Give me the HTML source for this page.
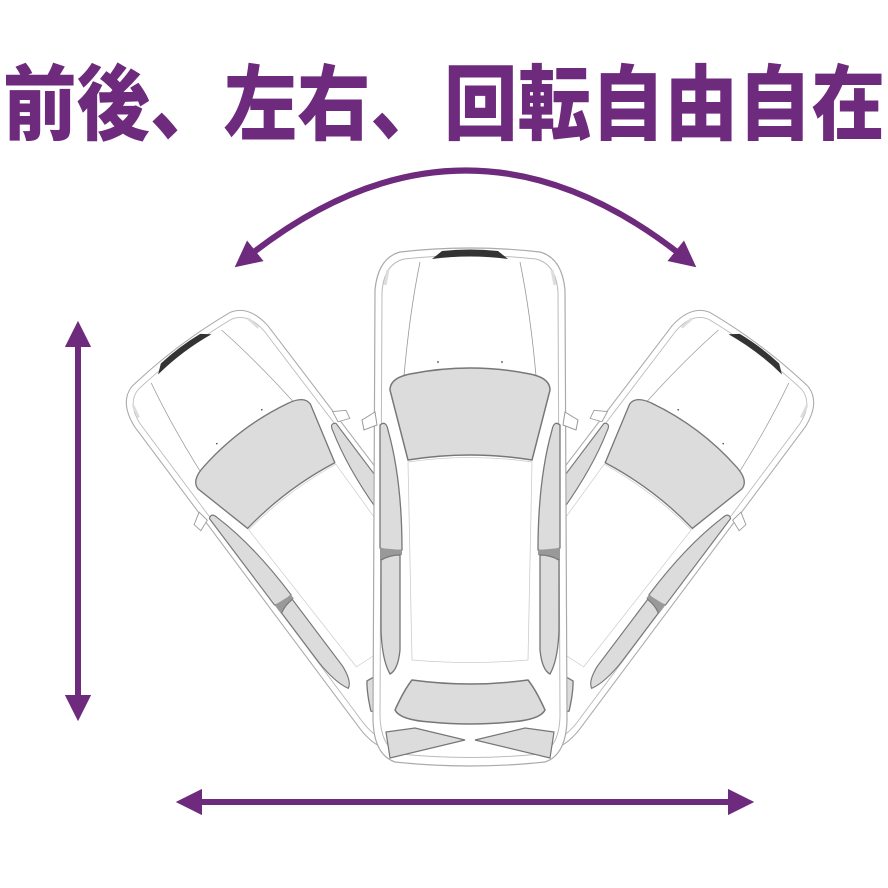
<!DOCTYPE html>
<html><head><meta charset="utf-8"><style>
html,body{margin:0;padding:0;background:#fff;}
svg{display:block}
</style></head><body>
<svg width="888" height="888" viewBox="0 0 888 888" xmlns="http://www.w3.org/2000/svg">
<defs>
<g id="car">
  <path d="M-70,2 Q0,-6 70,2 Q92,8 95,40 L97,470 Q96,505 75,512 Q0,520 -75,512 Q-96,505 -97,470 L-95,40 Q-92,8 -70,2 Z" fill="#fff" stroke="#aaa" stroke-width="1.2"/>
  <path d="M-66,9 Q0,2 66,9 Q86,14 88,42 L90,466 Q89,498 70,504 Q0,511 -70,504 Q-89,498 -90,466 L-88,42 Q-86,14 -66,9 Z" fill="none" stroke="#bbb" stroke-width="1"/>
  <path d="M-38,9 Q0,4 38,9 L28,1 Q0,-2 -28,1 Z" fill="#333"/>
  <path d="M-50,12 Q-62,70 -68,150" fill="none" stroke="#999" stroke-width="0.8"/>
  <path d="M50,12 Q62,70 68,150" fill="none" stroke="#999" stroke-width="0.8"/>
  <path d="M-82,20 L-85,35 M82,20 L85,35" stroke="#ddd" stroke-width="3"/>
  <circle cx="-32" cy="112" r="0.9" fill="#444"/>
  <circle cx="32" cy="112" r="0.9" fill="#444"/>
  <path d="M-80,140 Q-80,128 -60,124 Q0,112 60,124 Q80,128 80,140 L62,210 Q0,200 -62,210 Z" fill="#dcdcdc" stroke="#777" stroke-width="1.5"/>
  <path d="M-62,212 Q0,203 62,212 L58,410 Q0,415 -58,410 Z" fill="#fff" stroke="#ccc" stroke-width="0.8"/>
  <path d="M-90,175 Q-84,170 -82,180 Q-68,230 -68,300 Q-80,302 -90,298 Z" fill="#dcdcdc" stroke="#777" stroke-width="1.3"/>
  <path d="M90,175 Q84,170 82,180 Q68,230 68,300 Q80,302 90,298 Z" fill="#dcdcdc" stroke="#777" stroke-width="1.3"/>
  <path d="M-90,298 L-68,300 L-68,305 L-90,310 Z M90,298 L68,300 L68,305 L90,310 Z" fill="#999"/>
  <path d="M-89,310 Q-80,305 -70,305 L-70,400 Q-72,420 -80,424 Q-88,410 -89,380 Z" fill="#dcdcdc" stroke="#777" stroke-width="1.3"/>
  <path d="M89,310 Q80,305 70,305 L70,400 Q72,420 80,424 Q88,410 89,380 Z" fill="#dcdcdc" stroke="#777" stroke-width="1.3"/>
  <path d="M-95,162 L-108,170 L-106,180 L-93,175 Z" fill="#fff" stroke="#999" stroke-width="1"/>
  <path d="M95,162 L108,170 L106,180 L93,175 Z" fill="#fff" stroke="#999" stroke-width="1"/>
  <path d="M-58,430 Q0,438 58,430 Q66,440 75,460 Q70,470 40,472 Q0,476 -40,472 Q-70,470 -75,460 Q-66,440 -58,430 Z" fill="#dcdcdc" stroke="#777" stroke-width="1.5"/>
  <path d="M-84,482 L-55,478 L-5,490 L-80,508 Z" fill="#dcdcdc" stroke="#777" stroke-width="1.2"/>
  <path d="M84,482 L55,478 L5,490 L80,508 Z" fill="#dcdcdc" stroke="#777" stroke-width="1.2"/>
</g>
<marker id="ah" viewBox="0 0 10 10" refX="5" refY="5" markerWidth="4.4" markerHeight="4.4" orient="auto-start-reverse">
  <path d="M0,0 L10,5 L0,10 Z" fill="#6e2a7c"/>
</marker>
</defs>

<text x="3" y="133" font-family="'Liberation Sans','Noto Sans CJK JP',sans-serif" font-weight="900" font-size="82" fill="#6e2a7c" textLength="882" lengthAdjust="spacingAndGlyphs">前後、左右、回転自由自在</text>

<line x1="78" y1="334" x2="78" y2="708" stroke="#6e2a7c" stroke-width="6" marker-start="url(#ah)" marker-end="url(#ah)"/>
<line x1="189" y1="802" x2="741" y2="802" stroke="#6e2a7c" stroke-width="6" marker-start="url(#ah)" marker-end="url(#ah)"/>
<path d="M245,259 Q466,82 686,259" fill="none" stroke="#6e2a7c" stroke-width="6" marker-start="url(#ah)" marker-end="url(#ah)"/>

<use href="#car" transform="translate(180,348) rotate(-37) scale(0.88)"/>
<use href="#car" transform="translate(760,348) rotate(37) scale(0.88)"/>
<use href="#car" transform="translate(470,250)"/>
</svg>
</body></html>
